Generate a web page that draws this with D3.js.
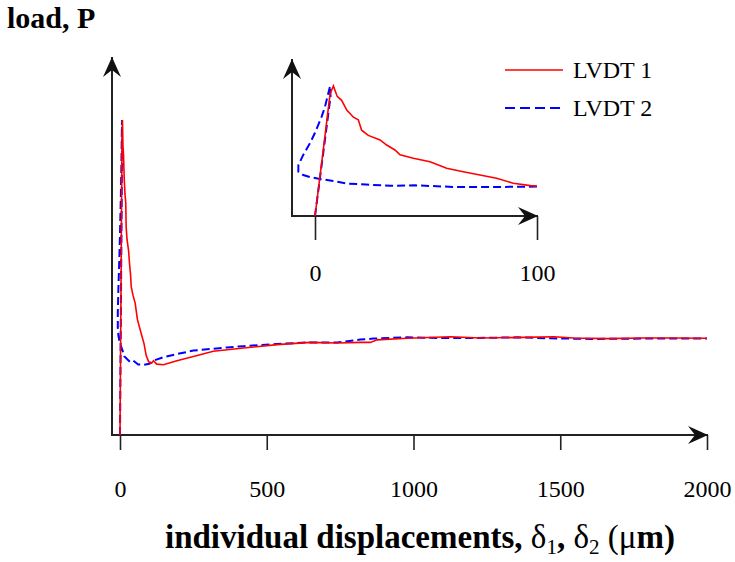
<!DOCTYPE html>
<html>
<head>
<meta charset="utf-8">
<script src="https://cdn.jsdelivr.net/npm/d3@7"></script>
<style>
  html, body { margin: 0; padding: 0; background: #fff; }
  svg { display: block; }
</style>
</head>
<body>
<svg id="chart" width="735" height="562"></svg>
<script>
// ---- data (load normalised to peak = 1, displacement in µm) ----
const lvdt1X = [0, 3.75, 6.8, 8.3, 10, 12, 14.3, 17.3, 19.5, 21, 24, 29.3, 32.3, 36, 38.3, 44.3, 51.8, 59.3, 66.8, 74.3, 81.8, 89.3, 97, 100,
  108, 114, 125, 148, 194, 250, 318, 421, 535, 648, 740, 819, 853, 876, 978, 1126, 1229, 1375, 1478, 1546, 1661, 1775, 1887, 2000];
const lvdt1P = [0, 0.51, 0.94, 1.0, 0.92, 0.89, 0.815, 0.76, 0.74, 0.66, 0.62, 0.585, 0.546, 0.508, 0.47, 0.444, 0.418, 0.367, 0.341, 0.315, 0.29, 0.252, 0.234, 0.23,
  0.228, 0.236, 0.225, 0.223, 0.236, 0.249, 0.266, 0.276, 0.287, 0.294, 0.292, 0.294, 0.294, 0.302, 0.307, 0.312, 0.308, 0.31, 0.312, 0.308, 0.306, 0.308, 0.308, 0.307];

const lvdt2X = [0, 3.9, 7.0, 6.8, 6, 4.5, 3, 0, -2.25, -5.3, -7.5, -7.5, -5.3, -2.25, 2.25, 8.2, 14.3, 23, 34, 45, 62, 80, 100,
  114, 148, 194, 250, 307, 364, 421, 535, 648, 740, 819, 863, 978, 1092, 1205, 1354, 1468, 1604, 1775, 2000];
const lvdt2P = [0, 0.51, 0.92, 1.0, 0.944, 0.84, 0.764, 0.64, 0.56, 0.47, 0.39, 0.34, 0.315, 0.3, 0.285, 0.27, 0.25, 0.242, 0.232, 0.236, 0.224, 0.223, 0.226,
  0.236, 0.247, 0.257, 0.268, 0.273, 0.278, 0.282, 0.289, 0.294, 0.294, 0.303, 0.306, 0.31, 0.308, 0.308, 0.31, 0.307, 0.305, 0.306, 0.306];

const mainTicks = [0, 500, 1000, 1500, 2000];
const insetTicks = [0, 100];
const seriesNames = ["LVDT 1", "LVDT 2"];

const svg = d3.select("#chart");
const FONT = "'Liberation Serif', 'Times New Roman', serif";

const s1 = lvdt1X.map((x, i) => ({x, p: lvdt1P[i]}));
const s2 = lvdt2X.map((x, i) => ({x, p: lvdt2P[i]}));

// arrow marker
const defs = svg.append("defs");
defs.append("marker")
  .attr("id", "arr").attr("markerUnits", "userSpaceOnUse")
  .attr("viewBox", "-21 -10 22 20").attr("refX", 0).attr("refY", 0)
  .attr("markerWidth", 22).attr("markerHeight", 20).attr("orient", "auto")
  .append("path").attr("d", "M0,0 L-20,-9 L-13,0 L-20,9 Z").attr("fill", "#111");

// ---- main plot ----
const x = d3.scaleLinear().domain([0, 2000]).range([120, 707]);
const y = d3.scaleLinear().domain([0, 1]).range([435, 120]);
const axisColor = "#222";

const xAxis = d3.axisBottom(x).tickValues(mainTicks).tickSize(15).tickSizeOuter(0).tickPadding(30)
  .tickFormat(d3.format("d"));
const gx = svg.append("g").attr("transform", `translate(0,${y(0)})`).call(xAxis);
gx.select(".domain").remove();
gx.selectAll("line").attr("stroke", axisColor).attr("stroke-width", 1.6);
gx.selectAll("text").attr("font-family", FONT).attr("font-size", 24).attr("fill", "#000");

const yAxisX = x(0) - 8;
svg.append("line").attr("x1", yAxisX).attr("x2", x(2000) + 1).attr("y1", y(0)).attr("y2", y(0))
  .attr("stroke", axisColor).attr("stroke-width", 2).attr("marker-end", "url(#arr)");
svg.append("line").attr("x1", yAxisX).attr("x2", yAxisX).attr("y1", y(0) + 1).attr("y2", 57)
  .attr("stroke", axisColor).attr("stroke-width", 2).attr("marker-end", "url(#arr)");

const line = d3.line().x(d => x(d.x)).y(d => y(d.p));
svg.append("path").datum(s2).attr("d", line).attr("fill", "none")
  .attr("stroke", "blue").attr("stroke-width", 2).attr("stroke-dasharray", "8,4");
svg.append("path").datum(s1).attr("d", line).attr("fill", "none")
  .attr("stroke", "red").attr("stroke-width", 1.6);

// ---- inset ----
const xi = d3.scaleLinear().domain([0, 100]).range([315, 537]);
const yi = d3.scaleLinear().domain([0, 1]).range([216, 86]);
const xiAxis = d3.axisBottom(xi).tickValues(insetTicks).tickSize(24).tickSizeOuter(0).tickPadding(24)
  .tickFormat(d3.format("d"));
const gxi = svg.append("g").attr("transform", `translate(0,${yi(0)})`).call(xiAxis);
gxi.select(".domain").remove();
gxi.selectAll("line").attr("stroke", axisColor).attr("stroke-width", 1.6);
gxi.selectAll("text").attr("font-family", FONT).attr("font-size", 24).attr("fill", "#000");

const yiAxisX = xi(0) - 23;
svg.append("line").attr("x1", yiAxisX).attr("x2", xi(100) + 1).attr("y1", yi(0)).attr("y2", yi(0))
  .attr("stroke", axisColor).attr("stroke-width", 2).attr("marker-end", "url(#arr)");
svg.append("line").attr("x1", yiAxisX).attr("x2", yiAxisX).attr("y1", yi(0) + 1).attr("y2", 59)
  .attr("stroke", axisColor).attr("stroke-width", 2).attr("marker-end", "url(#arr)");

const lineI = d3.line().x(d => xi(d.x)).y(d => yi(d.p));
svg.append("path").datum(s2.filter(d => d.x <= 100)).attr("d", lineI).attr("fill", "none")
  .attr("stroke", "blue").attr("stroke-width", 2).attr("stroke-dasharray", "8,4");
svg.append("path").datum(s1.filter(d => d.x <= 100)).attr("d", lineI).attr("fill", "none")
  .attr("stroke", "red").attr("stroke-width", 1.6);

// ---- legend ----
const leg = svg.append("g");
leg.append("line").attr("x1", 505).attr("x2", 563).attr("y1", 70).attr("y2", 70)
  .attr("stroke", "red").attr("stroke-width", 1.6);
leg.append("line").attr("x1", 505).attr("x2", 561).attr("y1", 108).attr("y2", 108)
  .attr("stroke", "blue").attr("stroke-width", 2).attr("stroke-dasharray", "10,5");
leg.append("text").attr("x", 573).attr("y", 78).attr("font-family", FONT).attr("font-size", 24).text(seriesNames[0]);
leg.append("text").attr("x", 573).attr("y", 116).attr("font-family", FONT).attr("font-size", 24).text(seriesNames[1]);

// ---- titles ----
svg.append("text").attr("x", 7).attr("y", 28).attr("font-family", FONT).attr("font-size", 30)
  .attr("font-weight", "bold").text("load, P");

const xt = svg.append("text").attr("x", 165).attr("y", 548).attr("font-family", FONT).attr("font-size", 33)
  .attr("font-weight", "bold");
xt.append("tspan").text("individual displacements, ");
xt.append("tspan").attr("font-weight", "normal").text("δ");
xt.append("tspan").attr("font-weight", "normal").attr("font-size", 21).attr("dy", 6).text("1");
xt.append("tspan").attr("dy", -6).text(", ");
xt.append("tspan").attr("font-weight", "normal").text("δ");
xt.append("tspan").attr("font-weight", "normal").attr("font-size", 21).attr("dy", 6).text("2");
xt.append("tspan").attr("dy", -6).attr("font-weight", "normal").text(" (μ");
xt.append("tspan").text("m)");
</script>
</body>
</html>
